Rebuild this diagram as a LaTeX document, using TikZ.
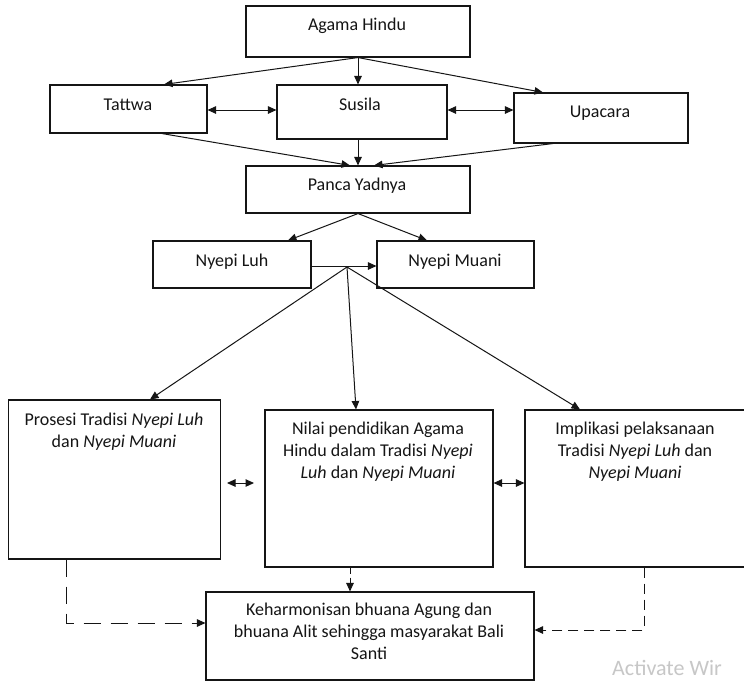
\documentclass[tikz,border=0pt]{standalone}
\usepackage{fontspec}
\setmainfont{Carlito}
\usetikzlibrary{arrows.meta}
\definecolor{ink}{HTML}{151515}
\tikzset{
  box/.style={draw=ink, line width=1.1pt, rectangle, inner sep=0pt},
  txt/.style={inner sep=0pt, text=ink, align=center, font=\fontsize{18}{22}\selectfont},
  conn/.style={draw=ink, line width=1pt, -{Triangle[length=8.5pt,width=7.5pt]}},
  biconn/.style={draw=ink, line width=1pt, {Triangle[length=8.5pt,width=7.5pt]}-{Triangle[length=8.5pt,width=7.5pt]}},
  dashA/.style={conn, dash pattern=on 17pt off 10pt},
  dashB/.style={conn, dash pattern=on 6pt off 4pt},
  dashC/.style={conn, dash pattern=on 10pt off 6pt}
}
\begin{document}
\begin{tikzpicture}[x=1pt,y=-1pt]
\useasboundingbox (0,0) rectangle (744,681);
\fill[white] (0,0) rectangle (744,681);

% boxes
\node[box, minimum width=224pt, minimum height=51pt] (agama) at (358,31.5) {};
\node[box, minimum width=157pt, minimum height=48pt] (tattwa) at (128.5,109) {};
\node[box, minimum width=170pt, minimum height=54pt] (susila) at (362,112) {};
\node[box, minimum width=174pt, minimum height=50pt] (upacara) at (601,118) {};
\node[box, minimum width=224pt, minimum height=47pt] (panca) at (358,189.5) {};
\node[box, minimum width=158pt, minimum height=47pt] (nluh) at (232,264.5) {};
\node[box, minimum width=157pt, minimum height=47pt] (nmuani) at (455.5,264.5) {};
\node[box, minimum width=212pt, minimum height=159pt] (prosesi) at (114.6,479.5) {};
\node[box, minimum width=228pt, minimum height=157pt] (nilai) at (379,488.5) {};
\node[box, minimum width=225pt, minimum height=157pt] (impl) at (637.5,488.5) {};
\node[box, minimum width=328pt, minimum height=88pt] (keh) at (370,636) {};

% texts
\node[txt, anchor=base] (tagama) at (357,30) {Agama Hindu};
\node[txt, anchor=base] (ttattwa) at (128,110) {Tattwa};
\node[txt, anchor=base] (tsusila) at (360,110) {Susila};
\node[txt, anchor=base] (tupacara) at (600,117) {Upacara};
\node[txt, anchor=base] (tpanca) at (357,190) {Panca Yadnya};
\node[txt, anchor=base] (tnluh) at (232,266) {Nyepi Luh};
\node[txt, anchor=base] (tnmuani) at (455,266) {Nyepi Muani};
\node[txt, anchor=north] (tprosesi) at (114,409.6) {\strut Prosesi Tradisi \textit{Nyepi Luh}\\dan \textit{Nyepi Muani}};
\node[txt, anchor=north] (tnilai) at (378,418.6) {\strut Nilai pendidikan Agama\\Hindu dalam Tradisi \textit{Nyepi}\\\textit{Luh} dan \textit{Nyepi Muani}};
\node[txt, anchor=north] (timpl) at (635,418.6) {\strut Implikasi pelaksanaan\\Tradisi \textit{Nyepi Luh} dan\\\textit{Nyepi Muani}};
\node[txt, anchor=north] (tkeh) at (369,599.6) {\strut Keharmonisan bhuana Agung dan\\bhuana Alit sehingga masyarakat Bali\\Santi};
\node[inner sep=0pt, anchor=base west, text=black!22, font=\fontsize{22}{26}\selectfont] (wm) at (612,675) {Activate Wir};

% connectors top
\draw[conn] (agama.south) -- ([xshift=35.5pt]tattwa.north);
\draw[conn] (agama.south) -- (agama.south |- susila.north);
\draw[conn] (agama.south) -- ([xshift=-58pt]upacara.north);
\draw[biconn] ([yshift=-1pt]tattwa.east) -- ([yshift=-1pt]tattwa.east -| susila.west);
\draw[biconn] ([yshift=2pt]susila.east) -- ([yshift=2pt]susila.east -| upacara.west);
\draw[conn] ([xshift=33.5pt]tattwa.south) -- ([xshift=-8pt]panca.north);
\draw[conn] (panca.north |- susila.south) -- (panca.north);
\draw[conn] ([xshift=-48pt]upacara.south) -- ([xshift=16pt]panca.north);
\draw[conn] (panca.south) -- ([xshift=56pt]nluh.north);
\draw[conn] (panca.south) -- ([xshift=-28.5pt]nmuani.north);
\draw[conn] ([yshift=-1.5pt]nluh.east) -- ([yshift=-1.5pt]nluh.east -| nmuani.west);

% junction to lower boxes
\coordinate (J) at (347,267);
\draw[conn] (J) -- ([xshift=35.4pt]prosesi.north);
\draw[conn] (J) -- ([xshift=-23pt]nilai.north);
\draw[conn] (J) -- ([xshift=-57.5pt]impl.north);

% double arrows between lower boxes
\coordinate (d1a) at (227,483);
\coordinate (d1b) at (254,483);
\draw[biconn] (d1a) -- (d1b);
\draw[biconn] ([yshift=5.5pt]nilai.east) -- ([yshift=5.5pt]nilai.east -| impl.west);

% dashed connectors
\draw[dashB] ([xshift=-29pt]nilai.south) -- ([xshift=-29pt]nilai.south |- keh.north);
\draw[dashA] ([xshift=-48.6pt]prosesi.south) |- ([yshift=13pt]keh.west);
\draw[dashC] ([xshift=6.5pt]impl.south) |- ([yshift=6pt]keh.east);
\end{tikzpicture}
\end{document}
